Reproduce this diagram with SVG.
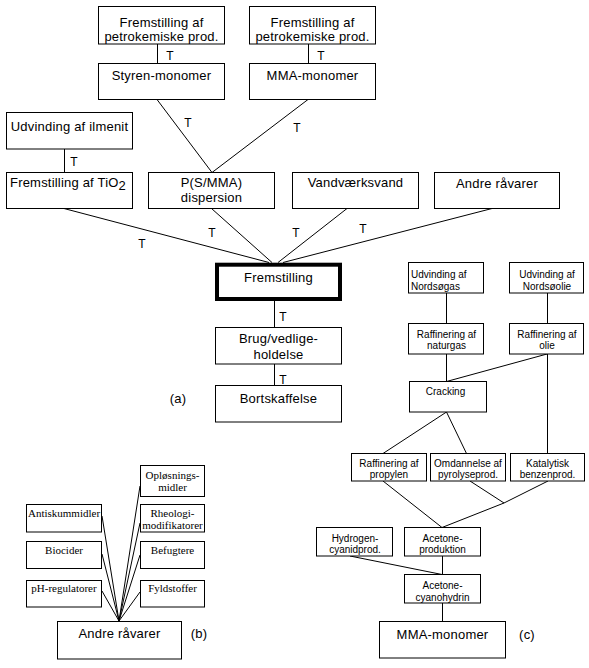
<svg xmlns="http://www.w3.org/2000/svg" width="589" height="668" viewBox="0 0 589 668">
<style>
rect{fill:#fff;stroke:#000;stroke-width:1}
.thick{stroke-width:4}
line,polyline{stroke:#000;stroke-width:1;fill:none}
text{font-family:"Liberation Sans",Arial,sans-serif;fill:#000;text-anchor:middle}
.a{font-size:13px;letter-spacing:0.2px}
.c{font-size:10px}
.b{font-family:"Liberation Serif","Times New Roman",serif;font-size:11px}
.t{font-size:12px}
</style>
<rect x="0" y="0" width="589" height="668" style="stroke:none"/>
<g id="connectors">
<line x1="157.5" y1="44" x2="157.5" y2="63.5"/>
<line x1="308.5" y1="44" x2="308.5" y2="63.5"/>
<line x1="64.5" y1="149" x2="64.5" y2="172.5"/>
<line x1="157" y1="99.5" x2="212" y2="172.5"/>
<line x1="308" y1="99.5" x2="212" y2="172.5"/>
<line x1="64" y1="208.5" x2="269" y2="262.5"/>
<line x1="211.5" y1="208.5" x2="272" y2="262.5"/>
<line x1="347" y1="208.5" x2="278" y2="262.5"/>
<line x1="492" y1="208.5" x2="283" y2="262.5"/>
<line x1="274.5" y1="301" x2="274.5" y2="327.5"/>
<line x1="274.5" y1="364" x2="274.5" y2="385.5"/>
<line x1="446.5" y1="293" x2="446.5" y2="323.5"/>
<line x1="547.5" y1="293" x2="547.5" y2="323.5"/>
<line x1="446.5" y1="354" x2="446.5" y2="381.5"/>
<line x1="547" y1="354" x2="446.5" y2="381.5"/>
<line x1="547.5" y1="354" x2="547.5" y2="453.5"/>
<line x1="446.5" y1="412" x2="383" y2="453.5"/>
<line x1="446.5" y1="412" x2="466.5" y2="453.5"/>
<line x1="383" y1="481" x2="442" y2="527.5"/>
<line x1="470" y1="481" x2="504" y2="503"/>
<polyline points="548,481 504,503 442,527.5"/>
<line x1="350" y1="556" x2="442" y2="574.5"/>
<line x1="442.5" y1="556" x2="442.5" y2="574.5"/>
<line x1="442.5" y1="603" x2="442.5" y2="621.5"/>
<line x1="102" y1="516" x2="119" y2="621"/>
<line x1="102" y1="554" x2="119" y2="621"/>
<line x1="102" y1="591" x2="119" y2="621"/>
<line x1="140" y1="486" x2="119" y2="621"/>
<line x1="140" y1="523" x2="119" y2="621"/>
<line x1="140" y1="555" x2="119" y2="621"/>
<line x1="140" y1="592" x2="119" y2="621"/>
</g>
<g id="labels">
<text class="t" x="170" y="60">T</text>
<text class="t" x="321" y="60">T</text>
<text class="t" x="74" y="166">T</text>
<text class="t" x="188" y="127">T</text>
<text class="t" x="297" y="132">T</text>
<text class="t" x="142" y="248">T</text>
<text class="t" x="212" y="237">T</text>
<text class="t" x="296" y="237">T</text>
<text class="t" x="363" y="233">T</text>
<text class="t" x="283" y="321">T</text>
<text class="t" x="283" y="384">T</text>
<text class="a" x="178" y="403">(a)</text>
<text class="a" x="199" y="638">(b)</text>
<text class="a" x="527" y="639">(c)</text>
</g>
<g id="n-petro1"><rect x="98.5" y="6.5" width="126" height="37.5"/><text class="a" x="161.5" y="27">Fremstilling af</text><text class="a" x="161.5" y="41">petrokemiske prod.</text></g>
<g id="n-petro2"><rect x="249.5" y="6.5" width="126" height="37.5"/><text class="a" x="312.5" y="27">Fremstilling af</text><text class="a" x="312.5" y="41">petrokemiske prod.</text></g>
<g id="n-styren"><rect x="98.5" y="63.5" width="126" height="36"/><text class="a" x="161.5" y="80">Styren-monomer</text></g>
<g id="n-mma1"><rect x="249.5" y="63.5" width="126" height="36"/><text class="a" x="312.5" y="80">MMA-monomer</text></g>
<g id="n-ilmenit"><rect x="6.5" y="112.5" width="126" height="36.5"/><text class="a" x="69.5" y="131">Udvinding af ilmenit</text></g>
<g id="n-tio2"><rect x="6.5" y="172.5" width="126" height="36"/><text class="a" x="68" y="187">Fremstilling af TiO<tspan dy="3">2</tspan></text></g>
<g id="n-psmma"><rect x="148.5" y="172.5" width="126" height="36"/><text class="a" x="211.5" y="187">P(S/MMA)</text><text class="a" x="211.5" y="202">dispersion</text></g>
<g id="n-vand"><rect x="292.5" y="172.5" width="126" height="36"/><text class="a" x="355.5" y="187">Vandværksvand</text></g>
<g id="n-andre1"><rect x="434.5" y="172.5" width="125" height="36"/><text class="a" x="497" y="188">Andre råvarer</text></g>
<g id="n-fremstilling"><rect class="thick" x="217" y="264.7" width="123" height="34.3"/><text class="a" x="278.5" y="282">Fremstilling</text></g>
<g id="n-brug"><rect x="215.5" y="327.5" width="126" height="36.5"/><text class="a" x="278.5" y="343">Brug/vedlige-</text><text class="a" x="278.5" y="359">holdelse</text></g>
<g id="n-bort"><rect x="215.5" y="385.5" width="126" height="36.5"/><text class="a" x="278.5" y="403">Bortskaffelse</text></g>
<g id="n-nordsogas"><rect x="408.5" y="262.5" width="75" height="30.5"/><text class="c" x="411" y="278" style="text-anchor:start">Udvinding af</text><text class="c" x="411" y="289.5" style="text-anchor:start">Nordsøgas</text></g>
<g id="n-nordsoolie"><rect x="509.5" y="262.5" width="74" height="30.5"/><text class="c" x="547" y="278">Udvinding af</text><text class="c" x="547" y="289.5">Nordsøolie</text></g>
<g id="n-naturgas"><rect x="408.5" y="323.5" width="75" height="30.5"/><text class="c" x="446.5" y="337.5">Raffinering af</text><text class="c" x="446.5" y="349">naturgas</text></g>
<g id="n-olie"><rect x="509.5" y="323.5" width="74" height="30.5"/><text class="c" x="547" y="337.5">Raffinering af</text><text class="c" x="547" y="349">olie</text></g>
<g id="n-cracking"><rect x="409.5" y="381.5" width="77" height="30.5"/><text class="c" x="445.5" y="394.5">Cracking</text></g>
<g id="n-propylen"><rect x="351.5" y="453.5" width="75" height="27.5"/><text class="c" x="389" y="466.5">Raffinering af</text><text class="c" x="389" y="478">propylen</text></g>
<g id="n-omdannelse"><rect x="430.5" y="453.5" width="75" height="27.5"/><text class="c" x="468" y="466.5">Omdannelse af</text><text class="c" x="468" y="478">pyrolyseprod.</text></g>
<g id="n-katalytisk"><rect x="510.5" y="453.5" width="74" height="27.5"/><text class="c" x="547.5" y="466.5">Katalytisk</text><text class="c" x="547.5" y="478">benzenprod.</text></g>
<g id="n-hydrogen"><rect x="316.5" y="527.5" width="76" height="28.5"/><text class="c" x="355" y="541.5">Hydrogen-</text><text class="c" x="355" y="553">cyanidprod.</text></g>
<g id="n-aceprod"><rect x="404.5" y="527.5" width="76" height="28.5"/><text class="c" x="442.5" y="541.5">Acetone-</text><text class="c" x="442.5" y="553">produktion</text></g>
<g id="n-acecyano"><rect x="404.5" y="574.5" width="76" height="28.5"/><text class="c" x="442.5" y="589">Acetone-</text><text class="c" x="442.5" y="600.5">cyanohydrin</text></g>
<g id="n-mma2"><rect x="379.5" y="621.5" width="126" height="36.5"/><text class="a" x="442.5" y="639">MMA-monomer</text></g>
<g id="n-oplosning"><rect x="140.5" y="465.5" width="64" height="31"/><text class="b" x="172.5" y="479">Opløsnings-</text><text class="b" x="172.5" y="491">midler</text></g>
<g id="n-rheologi"><rect x="140.5" y="504.5" width="64" height="27.5"/><text class="b" x="172.5" y="517">Rheologi-</text><text class="b" x="172.5" y="529">modifikatorer</text></g>
<g id="n-befugtere"><rect x="140.5" y="541.5" width="64" height="27"/><text class="b" x="172.5" y="554">Befugtere</text></g>
<g id="n-fyldstoffer"><rect x="140.5" y="580.5" width="64" height="26.5"/><text class="b" x="172.5" y="592">Fyldstoffer</text></g>
<g id="n-antiskum"><rect x="26.5" y="504.5" width="75" height="27.5"/><text class="b" x="64" y="517">Antiskummidler</text></g>
<g id="n-biocider"><rect x="26.5" y="541.5" width="75" height="27"/><text class="b" x="64" y="554">Biocider</text></g>
<g id="n-ph"><rect x="26.5" y="580.5" width="75" height="26.5"/><text class="b" x="64" y="592">pH-regulatorer</text></g>
<g id="n-andre2"><rect x="57.5" y="621.5" width="124" height="37.5"/><text class="a" x="119.5" y="638">Andre råvarer</text></g>
</svg>
